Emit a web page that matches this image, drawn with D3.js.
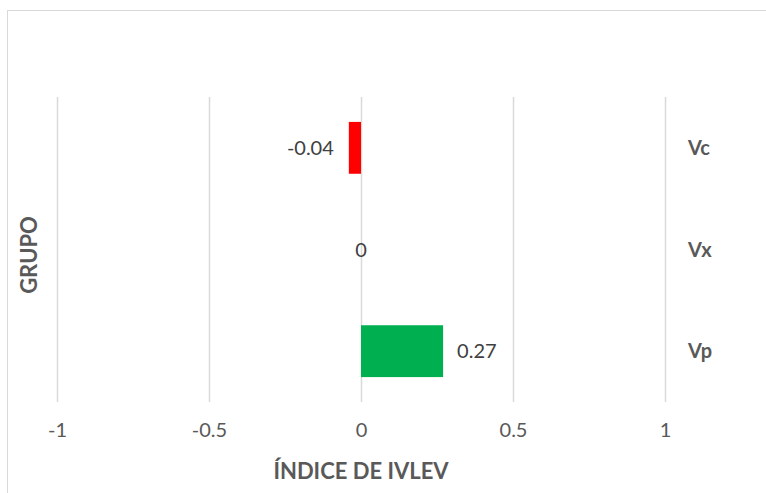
<!DOCTYPE html>
<html>
<head>
<meta charset="utf-8">
<script src="https://cdn.jsdelivr.net/npm/d3@7"></script>
<style>
  html, body { margin: 0; padding: 0; background: #fff; }
  svg { display: block; font-family: Lato, "Open Sans", sans-serif; }
</style>
</head>
<body>
<svg id="chart" width="766" height="493"></svg>
<script>
const categories = ["Vc", "Vx", "Vp"];
const values = [-0.04, 0, 0.27];
const labels = ["-0.04", "0", "0.27"];
const barColors = ["#ff0000", "#7f7f7f", "#00b050"];
const tickValues = [-1, -0.5, 0, 0.5, 1];
const tickLabels = ["-1", "-0.5", "0", "0.5", "1"];
const xTitle = "ÍNDICE DE IVLEV";
const yTitle = "GRUPO";

(function () {
const svg = d3.select("#chart");
const pLeft = 57, pRight = 665, pTop = 97, pBottom = 402;

svg.append("rect")
  .attr("x", 7.5).attr("y", 10.5)
  .attr("width", 800).attr("height", 600)
  .attr("fill", "none").attr("stroke", "#d9d9d9").attr("stroke-width", 1);

const x = d3.scaleLinear().domain([-1, 1]).range([pLeft, pRight]);
const y = d3.scaleBand().domain(categories).range([pTop, pBottom])
  .paddingInner(0.49).paddingOuter(0.245);

// gridlines
svg.append("g").selectAll("line").data(tickValues).join("line")
  .attr("x1", d => Math.round(x(d)) + 0.5).attr("x2", d => Math.round(x(d)) + 0.5)
  .attr("y1", pTop).attr("y2", pBottom)
  .attr("stroke", "#d9d9d9").attr("stroke-width", 1.5);

// x axis tick labels
const xAxis = d3.axisBottom(x).tickValues(tickValues)
  .tickFormat((d, i) => tickLabels[i]).tickSize(0).tickPadding(0);
const gx = svg.append("g").attr("transform", `translate(0, 423)`).call(xAxis);
gx.select(".domain").remove();
gx.selectAll("text").attr("fill", "#595959").style("font-size", "20px")
  .style("font-family", "Lato, 'Open Sans', sans-serif");

// bars
svg.append("g").selectAll("rect").data(values).join("rect")
  .attr("x", d => x(Math.min(0, d)))
  .attr("width", d => Math.abs(x(d) - x(0)))
  .attr("y", (d, i) => y(categories[i]))
  .attr("height", y.bandwidth())
  .attr("fill", (d, i) => barColors[i]);

// data labels
svg.append("g").selectAll("text").data(values).join("text")
  .attr("x", d => d < 0 ? x(d) - 15 : d > 0 ? x(d) + 14 : x(d))
  .attr("y", (d, i) => y(categories[i]) + y.bandwidth() / 2)
  .attr("dy", "0.35em")
  .attr("text-anchor", d => d < 0 ? "end" : d > 0 ? "start" : "middle")
  .attr("fill", "#404040").style("font-size", "20px")
  .text((d, i) => labels[i]);

// category labels (right side)
svg.append("g").selectAll("text").data(categories).join("text")
  .attr("x", 688)
  .attr("y", d => y(d) + y.bandwidth() / 2)
  .attr("dy", "0.35em")
  .attr("fill", "#595959").style("font-size", "20px").style("font-weight", "bold")
  .text(d => d);

// axis titles
svg.append("text")
  .attr("x", 361).attr("y", 471).attr("dy", "0.35em")
  .attr("text-anchor", "middle")
  .attr("fill", "#595959").style("font-size", "22px").style("font-weight", "bold")
  .text(xTitle);

svg.append("text")
  .attr("transform", "translate(29, 255) rotate(-90)")
  .attr("dy", "0.35em")
  .attr("text-anchor", "middle")
  .attr("fill", "#595959").style("font-size", "22px").style("font-weight", "bold")
  .text(yTitle);
})();
</script>
</body>
</html>
